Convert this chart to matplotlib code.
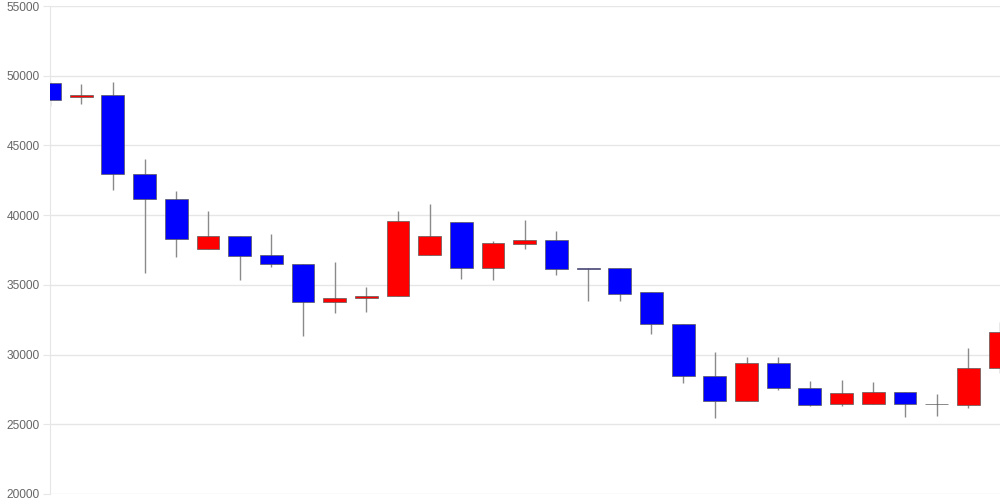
import numpy as np
import matplotlib
matplotlib.use('Agg')
import matplotlib.pyplot as plt

# --- Data ---
OPENS = [49480, 48450, 48600, 42960, 41160, 37550, 38490, 37120, 36520, 33750,
         34040, 34180, 37170, 39530, 36210, 37960, 38200, 36190, 36190, 34470,
         32220, 28490, 26690, 29400, 27630, 26480, 26480, 27320, 26460, 26410,
         29020]
CLOSES = [48260, 48600, 42960, 41140, 38310, 38470, 37100, 36500, 33750, 34080,
          34180, 39580, 38490, 36210, 37980, 38200, 36160, 36170, 34330, 32200,
          28490, 26690, 29400, 27580, 26410, 27270, 27320, 26440, 26440, 29020,
          31600]
HIGHS = [49650, 49390, 49530, 44010, 41760, 40280, 38490, 38630, 36520, 36640,
         34850, 40280, 40780, 39530, 38170, 39660, 38870, 36190, 36190, 34470,
         32220, 30190, 29850, 29850, 28090, 28180, 28030, 27320, 27170, 30470,
         32360]
LOWS = [47860, 47950, 41810, 35830, 36980, 37550, 35370, 36310, 31360, 32960,
        33080, 34180, 37170, 35400, 35370, 37550, 35710, 33870, 33870, 31500,
        27980, 25470, 26690, 27460, 26290, 26330, 26480, 25550, 25620, 26170,
        28660]

UP_COLOR = '#ff0000'
DOWN_COLOR = '#0000ff'


def draw_chart():
    plt.rcParams['font.family'] = ['Liberation Sans', 'DejaVu Sans']
    fig = plt.figure(figsize=(10, 5), dpi=100)
    ax = fig.add_axes([0.0495, 0.012, 0.9505, 0.976])

    x = np.arange(len(OPENS))
    opens = np.array(OPENS)
    closes = np.array(CLOSES)
    colors = [UP_COLOR if c > o else DOWN_COLOR for o, c in zip(opens, closes)]

    # wicks
    ax.vlines(x, LOWS, HIGHS, color='#8a8a8a', linewidth=1, zorder=2)

    # bodies
    bottoms = np.minimum(opens, closes)
    heights = np.abs(closes - opens)
    ax.bar(x, heights, bottom=bottoms, width=0.72, color=colors,
           edgecolor='#5a5a5a', linewidth=0.5, zorder=3)

    ax.set_xlim(0, len(OPENS) - 1)
    ax.set_ylim(20000, 55000)
    ax.set_yticks(np.arange(20000, 55001, 5000))
    ax.set_xticks([])

    ax.grid(axis='y', color='#e6e6e6', linewidth=1, zorder=0)
    ax.set_axisbelow(True)
    for side in ['top', 'right', 'bottom']:
        ax.spines[side].set_visible(False)
    ax.spines['left'].set_color('#e6e6e6')
    ax.tick_params(axis='y', length=5, color='#e6e6e6', labelcolor='#666666',
                   labelsize=8.6, pad=2)

    fig.savefig('out.png', dpi=100)


if __name__ == "__main__":
    draw_chart()
